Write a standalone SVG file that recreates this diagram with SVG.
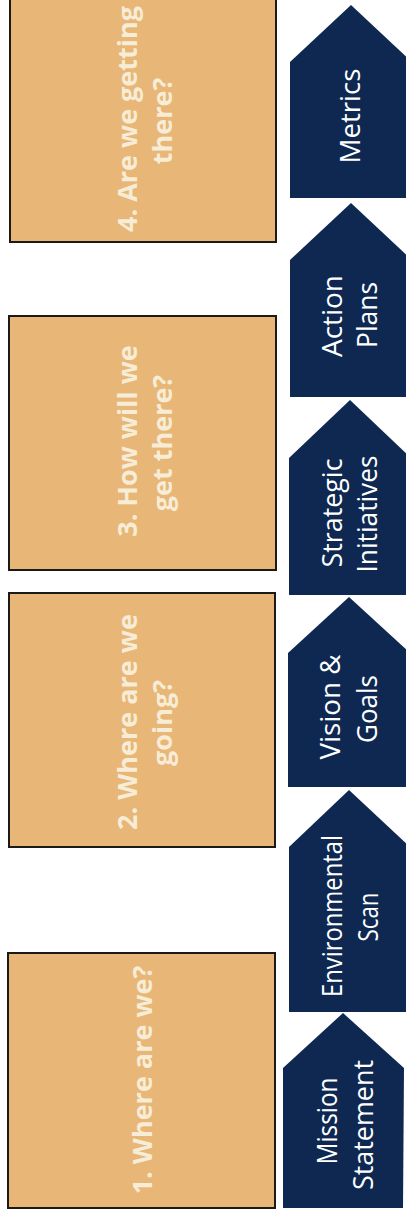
<svg xmlns="http://www.w3.org/2000/svg" width="406" height="1218" viewBox="0 0 406 1218">
<style>
.box{fill:#e8b676;stroke:#1c1a17;stroke-width:2}
.pent{fill:#0e2852}
.q{font-family:"Open Sans","Liberation Sans",sans-serif;font-weight:700;font-size:27px;fill:#f7ecd6;text-anchor:middle}
.p{font-family:"Open Sans","Liberation Sans",sans-serif;font-weight:500;font-size:27px;fill:#ffffff;text-anchor:middle}
</style>
<rect width="406" height="1218" fill="#ffffff"/>
<g id="q4">
<rect class="box" x="10" y="-4" width="266" height="246"/>
<text class="q" transform="translate(137,119) rotate(-90)">4. Are we getting</text>
<text class="q" transform="translate(172,121) rotate(-90)">there?</text>
</g>
<g id="q3">
<rect class="box" x="9" y="316" width="267" height="254"/>
<text class="q" transform="translate(137,441) rotate(-90)">3. How will we</text>
<text class="q" transform="translate(172,443) rotate(-90)">get there?</text>
</g>
<g id="q2">
<rect class="box" x="9" y="593" width="266" height="254"/>
<text class="q" transform="translate(137,722) rotate(-90)">2. Where are we</text>
<text class="q" transform="translate(172,723) rotate(-90)">going?</text>
</g>
<g id="q1">
<rect class="box" x="8" y="953" width="267" height="255"/>
<text class="q" transform="translate(152,1080) rotate(-90)">1. Where are we?</text>
</g>
<g id="metrics">
<polygon class="pent" points="351,5 412,62 412,198 290,198 290,62"/>
<text class="p" transform="translate(360,116) rotate(-90)" textLength="95" lengthAdjust="spacingAndGlyphs">Metrics</text>
</g>
<g id="action-plans">
<polygon class="pent" points="351,203 412,260 412,397 290,397 290,260"/>
<text class="p" transform="translate(342,316) rotate(-90)" textLength="82" lengthAdjust="spacingAndGlyphs">Action</text>
<text class="p" transform="translate(377,315) rotate(-90)" textLength="66" lengthAdjust="spacingAndGlyphs">Plans</text>
</g>
<g id="strategic-initiatives">
<polygon class="pent" points="350,400 411,458 411,595 289,595 289,458"/>
<text class="p" transform="translate(342,513) rotate(-90)" textLength="109" lengthAdjust="spacingAndGlyphs">Strategic</text>
<text class="p" transform="translate(377,514) rotate(-90)" textLength="117" lengthAdjust="spacingAndGlyphs">Initiatives</text>
</g>
<g id="vision-goals">
<polygon class="pent" points="349,597 410,653 410,787 288,787 288,653"/>
<text class="p" transform="translate(340,707) rotate(-90)" textLength="105" lengthAdjust="spacingAndGlyphs">Vision &amp;</text>
<text class="p" transform="translate(377,709) rotate(-90)" textLength="68" lengthAdjust="spacingAndGlyphs">Goals</text>
</g>
<g id="environmental-scan">
<polygon class="pent" points="349,790 410,847 410,1012 289,1012 289,847"/>
<text class="p" transform="translate(342,916) rotate(-90)" textLength="162" lengthAdjust="spacingAndGlyphs">Environmental</text>
<text class="p" transform="translate(378,917) rotate(-90)" textLength="49" lengthAdjust="spacingAndGlyphs">Scan</text>
</g>
<g id="mission-statement">
<polygon class="pent" points="343,1013 404,1068 403,1208 283,1208 283,1068"/>
<text class="p" transform="translate(337,1121) rotate(-90)" textLength="87" lengthAdjust="spacingAndGlyphs">Mission</text>
<text class="p" transform="translate(373,1125) rotate(-90)" textLength="130" lengthAdjust="spacingAndGlyphs">Statement</text>
</g>
<g id="connectors"></g>
</svg>
